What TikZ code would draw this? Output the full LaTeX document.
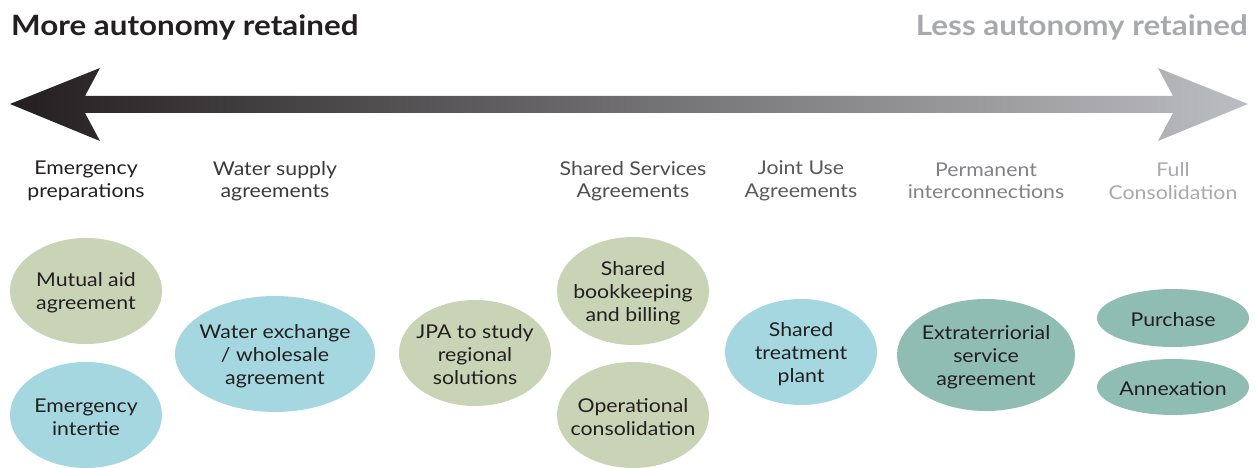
\documentclass[tikz,border=0pt]{standalone}
\usepackage{fontspec}
\setmainfont{Lato}[FakeStretch=1.12]
\usetikzlibrary{shapes.geometric}
\definecolor{ink}{HTML}{231F20}
\definecolor{arrowend}{HTML}{BCBDC0}
\definecolor{lessgrey}{HTML}{A7A9AC}
\definecolor{sage}{HTML}{C9D3B6}
\definecolor{aqua}{HTML}{A5D7E1}
\definecolor{teal}{HTML}{8FBDB1}
\definecolor{hA}{HTML}{231F20}
\definecolor{hB}{HTML}{3A3A3C}
\definecolor{hC}{HTML}{4D4D4F}
\definecolor{hD}{HTML}{58595B}
\definecolor{hE}{HTML}{808285}
\definecolor{hF}{HTML}{A7A9AC}
\tikzset{
  title/.style={font=\fontsize{28}{32}\selectfont\bfseries, inner sep=0pt},
  header/.style={font=\fontsize{19}{22.5}\selectfont, align=center, inner sep=0pt},
  bubble/.style={ellipse, inner sep=0pt},
  bubtext/.style={text=ink, align=center, inner sep=0pt, yshift=-2pt,
    font=\fontsize{19}{23}\selectfont},
  sagebubble/.style={bubble, fill=sage},
  aquabubble/.style={bubble, fill=aqua},
  tealbubble/.style={bubble, fill=teal},
}
\begin{document}
\begin{tikzpicture}[x=1pt,y=-1pt]
\useasboundingbox (0,0) rectangle (1258,468);
% titles
\node[title, text=ink, anchor=base west] (more) at (11,36) {More autonomy retained};
\node[title, text=lessgrey, anchor=base east] (less) at (1248,36) {Less autonomy retained};
% double arrow
\shade[left color=ink, right color=arrowend]
  (10,104) -- (100,68) -- (85,96) -- (1173,96) -- (1158,68) -- (1248,104)
  -- (1158,141) -- (1173,113) -- (85,113) -- (100,141) -- cycle;
% headers
\node[header, text=hA] (h1) at (86,181) {Emergency\\preparations};
\node[header, text=hB] (h2) at (275,181) {Water supply\\agreements};
\node[header, text=hC] (h3) at (633,181) {Shared Services\\Agreements};
\node[header, text=hD] (h4) at (801,181) {Joint Use\\Agreements};
\node[header, text=hE] (h5) at (986,181) {Permanent\\interconnections};
\node[header, text=hF] (h6) at (1173,181) {Full\\Consolidation};
% bubbles
\node[sagebubble, minimum width=152, minimum height=106] (mutual) at (86,291) {};
\node[bubtext] (mutual-t) at (mutual.center) {Mutual aid\\agreement};
\node[aquabubble, minimum width=152, minimum height=106] (intertie) at (86,415) {};
\node[bubtext] (intertie-t) at (intertie.center) {Emergency\\intertie};
\node[aquabubble, minimum width=200, minimum height=116] (exchange) at (275,354) {};
\node[bubtext] (exchange-t) at (exchange.center) {Water exchange\\/ wholesale\\agreement};
\node[sagebubble, minimum width=152, minimum height=106] (jpa) at (475,353) {};
\node[bubtext] (jpa-t) at (jpa.center) {JPA to study\\regional\\solutions};
\node[sagebubble, minimum width=152, minimum height=108] (bookkeeping) at (633,291) {};
\node[bubtext] (bookkeeping-t) at (bookkeeping.center) {Shared\\bookkeeping\\and billing};
\node[sagebubble, minimum width=152, minimum height=106] (operational) at (633,415) {};
\node[bubtext] (operational-t) at (operational.center) {Operational\\consolidation};
\node[aquabubble, minimum width=152, minimum height=106] (treatment) at (801,352) {};
\node[bubtext] (treatment-t) at (treatment.center) {Shared\\treatment\\plant};
\node[tealbubble, minimum width=178, minimum height=112] (extra) at (986,355) {};
\node[bubtext] (extra-t) at (extra.center) {Extraterriorial\\service\\agreement};
\node[tealbubble, minimum width=152, minimum height=58] (purchase) at (1173,318) {};
\node[bubtext] (purchase-t) at (purchase.center) {Purchase};
\node[tealbubble, minimum width=152, minimum height=56] (annex) at (1173,387) {};
\node[bubtext] (annex-t) at (annex.center) {Annexation};
\end{tikzpicture}
\end{document}
